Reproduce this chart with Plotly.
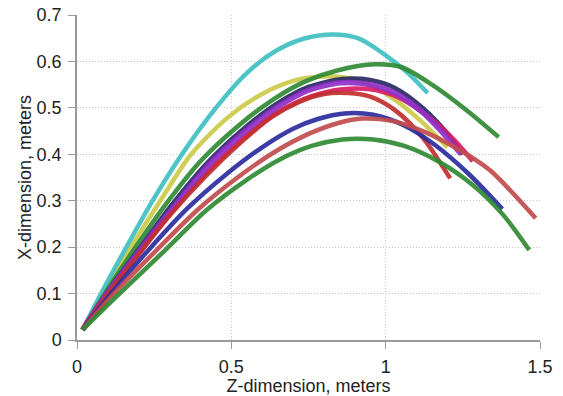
import plotly.graph_objects as go

# Trajectories (Z-dimension, X-dimension), meters
cyan_z = [0.018, 0.09, 0.16, 0.245, 0.34, 0.45, 0.55, 0.65, 0.74, 0.83, 0.91, 0.99, 1.067, 1.136]
cyan_x = [0.022, 0.115, 0.20, 0.30, 0.40, 0.50, 0.575, 0.625, 0.65, 0.658, 0.65, 0.618, 0.578, 0.532]

yellow_z = [0.018, 0.095, 0.175, 0.27, 0.37, 0.49, 0.60, 0.70, 0.78, 0.86, 0.94, 1.02, 1.11, 1.2]
yellow_x = [0.022, 0.11, 0.20, 0.30, 0.40, 0.48, 0.53, 0.558, 0.567, 0.566, 0.552, 0.522, 0.474, 0.415]

green1_z = [0.018, 0.10, 0.19, 0.285, 0.40, 0.52, 0.64, 0.74, 0.84, 0.965, 1.05, 1.15, 1.26, 1.366]
green1_x = [0.022, 0.11, 0.20, 0.29, 0.385, 0.46, 0.52, 0.557, 0.58, 0.594, 0.588, 0.55, 0.496, 0.437]

navy_z = [0.018, 0.10, 0.20, 0.30, 0.42, 0.54, 0.65, 0.75, 0.86, 0.95, 1.03, 1.12, 1.2, 1.25]
navy_x = [0.022, 0.105, 0.195, 0.285, 0.38, 0.455, 0.51, 0.545, 0.562, 0.56, 0.543, 0.50, 0.445, 0.40]

crimson_z = [0.018, 0.10, 0.20, 0.30, 0.42, 0.54, 0.65, 0.76, 0.86, 0.95, 1.04, 1.14, 1.22, 1.282]
crimson_x = [0.022, 0.10, 0.185, 0.27, 0.36, 0.435, 0.49, 0.525, 0.54, 0.54, 0.523, 0.48, 0.432, 0.385]

purple_z = [0.018, 0.10, 0.20, 0.30, 0.42, 0.54, 0.65, 0.75, 0.855, 0.95, 1.03, 1.12, 1.2, 1.245]
purple_x = [0.022, 0.103, 0.19, 0.275, 0.372, 0.447, 0.502, 0.538, 0.554, 0.55, 0.532, 0.49, 0.435, 0.40]

redA_z = [0.018, 0.10, 0.20, 0.30, 0.42, 0.53, 0.63, 0.72, 0.80, 0.88, 0.95, 1.03, 1.12, 1.209]
redA_x = [0.022, 0.10, 0.185, 0.268, 0.355, 0.425, 0.48, 0.513, 0.53, 0.532, 0.524, 0.495, 0.436, 0.348]

blue_z = [0.018, 0.11, 0.24, 0.36, 0.48, 0.60, 0.70, 0.78, 0.866, 0.96, 1.06, 1.16, 1.27, 1.378]
blue_x = [0.022, 0.10, 0.20, 0.285, 0.355, 0.415, 0.455, 0.476, 0.488, 0.485, 0.462, 0.42, 0.357, 0.282]

redB_z = [0.018, 0.12, 0.26, 0.39, 0.52, 0.64, 0.754, 0.85, 0.924, 1.02, 1.12, 1.23, 1.337, 1.486]
redB_x = [0.022, 0.10, 0.195, 0.28, 0.35, 0.405, 0.445, 0.468, 0.477, 0.472, 0.45, 0.413, 0.366, 0.262]

green2_z = [0.018, 0.13, 0.28, 0.42, 0.55, 0.66, 0.76, 0.86, 0.96, 1.06, 1.17, 1.28, 1.38, 1.465]
green2_x = [0.022, 0.095, 0.19, 0.28, 0.345, 0.39, 0.418, 0.432, 0.432, 0.418, 0.385, 0.335, 0.27, 0.194]

x_ticks = [0, 0.5, 1, 1.5]
x_tick_labels = ["0", "0.5", "1", "1.5"]
y_ticks = [0, 0.1, 0.2, 0.3, 0.4, 0.5, 0.6, 0.7]
y_tick_labels = ["0", "0.1", "0.2", "0.3", "0.4", "0.5", "0.6", "0.7"]

series = [
    (yellow_z, yellow_x, "#cccc4a", 4.5),
    (cyan_z, cyan_x, "#40c0c2", 4.5),
    (green1_z, green1_x, "#2f8a34", 4.5),
    (navy_z, navy_x, "#2a2a66", 4.5),
    (crimson_z, crimson_x, "#dc1c64", 4.5),
    (purple_z, purple_x, "#9030c8", 5.5),
    (redA_z, redA_x, "#c23030", 4.5),
    (blue_z, blue_x, "#2c2ca0", 4.5),
    (redB_z, redB_x, "#c24c4c", 4.5),
    (green2_z, green2_x, "#2f8a34", 4.5),
]

fig = go.Figure()
for z, x, color, w in series:
    fig.add_trace(go.Scatter(
        x=z, y=x, mode="lines",
        line=dict(color=color, width=w, shape="spline", smoothing=0.8),
        opacity=0.92, showlegend=False, hoverinfo="skip",
    ))

font = dict(family="Liberation Sans, Arial, sans-serif", size=18, color="#222222")

fig.update_layout(
    width=563, height=396,
    margin=dict(l=77, r=23, t=15, b=56),
    paper_bgcolor="white", plot_bgcolor="white",
    font=font,
    showlegend=False,
)
fig.update_xaxes(
    range=[0, 1.5], tickvals=x_ticks, ticktext=x_tick_labels,
    showgrid=True, gridcolor="#c8c8c8", griddash="1px,2px", gridwidth=1,
    showline=True, linecolor="#9a9a9a", linewidth=1.5,
    ticks="outside", ticklen=7, tickcolor="#9a9a9a",
    zeroline=False, automargin=False, ticklabelstandoff=3,
    title=dict(text="Z-dimension, meters", font=font, standoff=0),
    tickfont=font,
)
fig.update_yaxes(
    range=[0, 0.7], tickvals=y_ticks, ticktext=y_tick_labels,
    showgrid=True, gridcolor="#c8c8c8", griddash="1px,2px", gridwidth=1,
    showline=True, linecolor="#9a9a9a", linewidth=1.5,
    ticks="outside", ticklen=7, tickcolor="#9a9a9a",
    zeroline=False, automargin=False, ticklabelstandoff=3,
    title=dict(text="X-dimension, meters", font=font, standoff=0),
    tickfont=font,
)

fig.write_html(
    "out.html",
    config={"displayModeBar": False},
    post_script="document.body.style.margin='0';document.body.style.overflow='hidden';",
)
